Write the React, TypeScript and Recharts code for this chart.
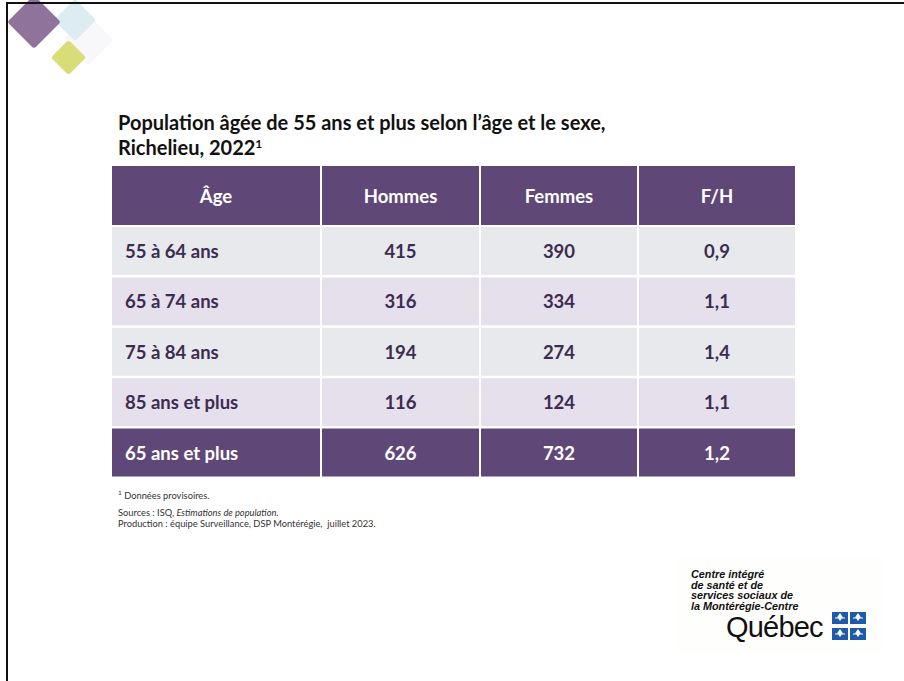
import { BarChart, Bar, XAxis, YAxis, Cell, LabelList } from 'recharts';

// Table content
const columnTitles = ['Âge', 'Hommes', 'Femmes', 'F/H'];
const ageGroups = ['55 à 64 ans', '65 à 74 ans', '75 à 84 ans', '85 ans et plus', '65 ans et plus'];
const hommes = [415, 316, 194, 116, 626];
const femmes = [390, 334, 274, 124, 732];
const ratioFH = [0.9, 1.1, 1.4, 1.1, 1.2];

// layout (px)
const colWidths = [210, 159, 158, 158];
const tableWidth = colWidths.reduce((a, b) => a + b, 0);
const FONT = 'Lato, "Open Sans", sans-serif';
const PURPLE = '#5F4878';
const ROW_BG = ['#E8E9EC', '#E6DFEC'];
const TEXT_DARK = '#3D2C52';

const fmtRatio = (v: number) => v.toFixed(1).replace('.', ',');

const headerData = [
  {
    row: 'header',
    w0: colWidths[0], w1: colWidths[1], w2: colWidths[2], w3: colWidths[3],
    t0: columnTitles[0], t1: columnTitles[1], t2: columnTitles[2], t3: columnTitles[3],
  },
];

const bodyData = ageGroups.map((g, i) => ({
  row: g,
  w0: colWidths[0], w1: colWidths[1], w2: colWidths[2], w3: colWidths[3],
  t0: g,
  t1: String(hommes[i]),
  t2: String(femmes[i]),
  t3: fmtRatio(ratioFH[i]),
}));

const isTotal = (i: number) => i === ageGroups.length - 1;

const makeLabel = (col: number, header: boolean) => (props: any) => {
  const vb = props.viewBox || {};
  const x = props.x ?? vb.x;
  const y = props.y ?? vb.y;
  const w = props.width ?? vb.width;
  const h = props.height ?? vb.height;
  const white = header || isTotal(props.index);
  const left = col === 0 && !header;
  return (
    <text
      x={left ? x + 14 : x + w / 2}
      y={y + h / 2}
      textAnchor={left ? 'start' : 'middle'}
      dominantBaseline="central"
      fill={white ? '#FFFFFF' : TEXT_DARK}
      fontFamily={FONT}
      fontWeight={700}
      fontSize={18.5}
    >
      {props.value}
    </text>
  );
};

function TableChart({ data, header, height }: { data: any[]; header: boolean; height: number }) {
  return (
    <BarChart
      width={tableWidth}
      height={height}
      data={data}
      layout="vertical"
      margin={{ top: 0, right: 0, bottom: 0, left: 0 }}
      barCategoryGap={0}
    >
      <XAxis type="number" domain={[0, tableWidth]} hide />
      <YAxis type="category" dataKey="row" hide />
      {[0, 1, 2, 3].map((c) => (
        <Bar
          key={c}
          dataKey={`w${c}`}
          stackId="t"
          stroke="#FFFFFF"
          strokeWidth={2}
          isAnimationActive={false}
        >
          {data.map((_, i) => (
            <Cell
              key={`cell-${c}-${i}`}
              fill={header || isTotal(i) ? PURPLE : ROW_BG[i % 2]}
            />
          ))}
          <LabelList dataKey={`t${c}`} content={makeLabel(c, header)} />
        </Bar>
      ))}
    </BarChart>
  );
}

export default function App() {
  return (
    <div
      style={{
        position: 'absolute',
        left: 0,
        top: 0,
        width: 904,
        height: 681,
        background: '#FFFFFF',
        overflow: 'hidden',
        fontFamily: FONT,
      }}
    >
      {/* slide frame and corner decoration */}
      <svg width={904} height={681} style={{ position: 'absolute', left: 0, top: 0 }}>
        <rect x={677} y={558} width={205} height={95} fill="#FEFEFC" />
        <rect x={70} y={22} width={36} height={36} rx={4} fill="#F8F8FA" transform="rotate(45 88 40)" />
        <rect x={60} y={5} width={30} height={30} rx={3} fill="#D9EAF2" opacity={0.9} transform="rotate(45 75 20)" />
        <rect x={15} y={3} width={38} height={38} rx={3} fill="#8A6C95" opacity={0.95} transform="rotate(45 34 22)" />
        <rect x={56} y={45} width={25} height={25} rx={3} fill="#D8DD78" transform="rotate(45 68.5 57.5)" />
        <rect x={6} y={2} width={898} height={2} fill="#111" />
        <rect x={6} y={2} width={2} height={679} fill="#111" />
      </svg>

      {/* title */}
      <div
        style={{
          position: 'absolute',
          left: 118,
          top: 110,
          fontSize: 20,
          fontWeight: 700,
          lineHeight: '25px',
          color: '#111',
        }}
      >
        Population âgée de 55 ans et plus selon l’âge et le sexe,
        <br />
        Richelieu, 2022<sup style={{ fontSize: 12, verticalAlign: 'top', lineHeight: '18px' }}>1</sup>
      </div>

      <div style={{ position: 'absolute', left: 111, top: 165 }}>
        <TableChart data={headerData} header={true} height={61} />
      </div>
      <div style={{ position: 'absolute', left: 111, top: 226 }}>
        <TableChart data={bodyData} header={false} height={252} />
      </div>

      {/* notes */}
      <div
        style={{
          position: 'absolute',
          left: 118,
          top: 487,
          fontSize: 9.3,
          lineHeight: '11px',
          color: '#333',
        }}
      >
        <div>
          <sup style={{ fontSize: 6.5 }}>1</sup> Données provisoires.
        </div>
        <div style={{ marginTop: 6 }}>
          Sources : ISQ, <i>Estimations de population.</i>
        </div>
        <div>Production : équipe Surveillance, DSP Montérégie,&nbsp; juillet 2023.</div>
      </div>

      {/* logo */}
      <div
        style={{
          position: 'absolute',
          left: 691,
          top: 569,
          fontSize: 10.8,
          lineHeight: '10.5px',
          fontWeight: 700,
          fontStyle: 'italic',
          color: '#111',
          fontFamily: '"Liberation Sans", Arial, sans-serif',
        }}
      >
        <div>Centre intégré</div>
        <div>de santé et de</div>
        <div>services sociaux de</div>
        <div>la Montérégie-Centre</div>
      </div>
      <div
        style={{
          position: 'absolute',
          left: 726,
          top: 612,
          fontSize: 29,
          lineHeight: '30px',
          color: '#111',
          fontFamily: '"Liberation Sans", Arial, sans-serif',
          letterSpacing: -0.8,
        }}
      >
        Québec
      </div>
      <svg width={40} height={34} style={{ position: 'absolute', left: 831, top: 610 }}>
        {[0, 1].map((r) =>
          [0, 1].map((c) => (
            <g key={`${r}-${c}`}>
              <rect x={1 + c * 18} y={2 + r * 16} width={16} height={12} fill="#1F5AA8" />
              <path
                d={`M ${9 + c * 18} ${4 + r * 16} l 2 3 l -2 3 l -2 -3 z M ${4 + c * 18} ${8 + r * 16} h 10`}
                stroke="#FFFFFF"
                strokeWidth={1.2}
                fill="#FFFFFF"
              />
            </g>
          ))
        )}
      </svg>
    </div>
  );
}
